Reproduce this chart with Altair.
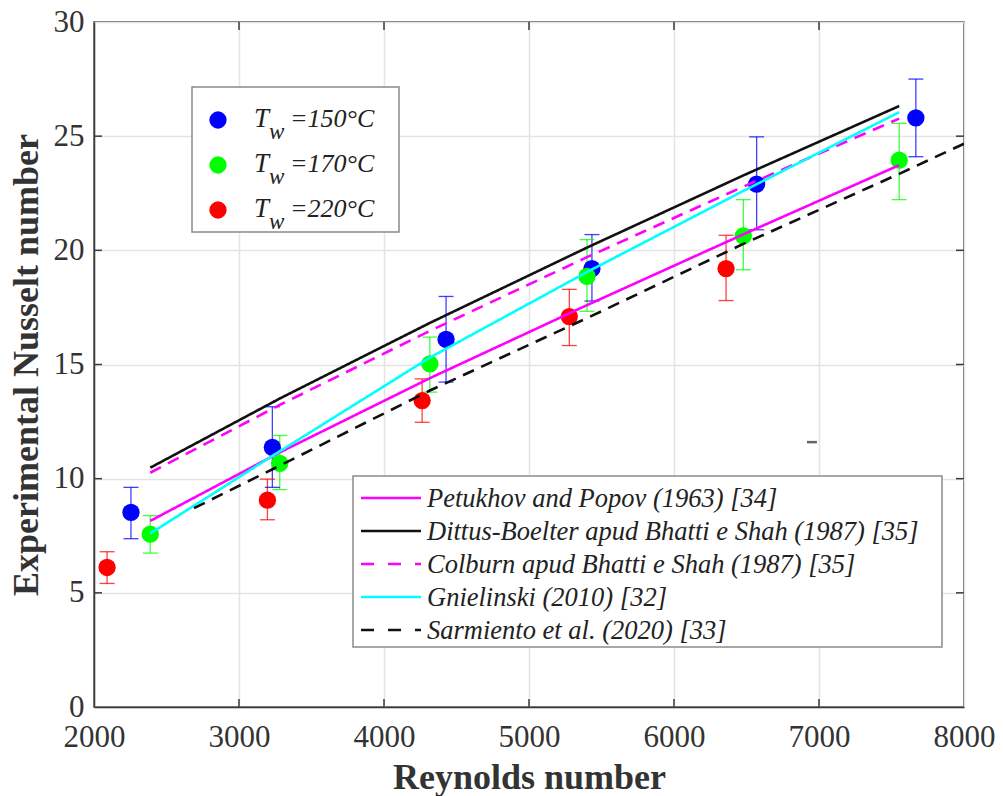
import altair as alt
import pandas as pd

# ---- experimental data: Reynolds number, Nusselt number and error-bar limits ----
re_150 = [2255, 3230, 4428, 5434, 6570, 7668]
nu_150 = [8.52, 11.37, 16.10, 19.20, 22.90, 25.80]
lo_150 = [7.37, 9.62, 14.23, 17.78, 20.90, 24.10]
hi_150 = [9.62, 13.15, 17.98, 20.69, 24.97, 27.50]

re_170 = [2388, 3281, 4316, 5400, 6478, 7553]
nu_170 = [7.57, 10.67, 15.03, 18.86, 20.63, 23.95]
lo_170 = [6.74, 9.52, 13.79, 17.33, 19.15, 22.22]
hi_170 = [8.38, 11.89, 16.20, 20.47, 22.22, 25.56]

re_220 = [2090, 3196, 4263, 5278, 6359]
nu_220 = [6.11, 9.06, 13.42, 17.10, 19.20]
lo_220 = [5.41, 8.20, 12.47, 15.83, 17.80]
hi_220 = [6.80, 9.98, 14.37, 18.29, 20.66]

# ---- correlations evaluated at the 170 °C Reynolds numbers ----
re_corr = [2388, 3281, 4316, 5400, 6478, 7553]
nu_petukhov = [8.15, 11.15, 14.40, 17.60, 20.70, 23.73]
nu_dittus = [10.48, 13.51, 16.82, 20.12, 23.28, 26.32]
nu_colburn = [10.26, 13.23, 16.47, 19.70, 22.79, 25.77]
nu_gnielinski = [7.60, 11.20, 15.30, 19.05, 22.60, 26.05]

re_sarmiento = [2690, 3281, 4316, 5400, 6478, 7553, 8000]
nu_sarmiento = [8.71, 10.57, 13.86, 17.03, 20.28, 23.35, 24.67]

series_names = ["T_w=150°C", "T_w=170°C", "T_w=220°C"]
series_colors = ["#0000ff", "#00ff00", "#ff0000"]
series_labels = ["=150°C", "=170°C", "=220°C"]

model_names = [
    "Petukhov and Popov (1963) [34]",
    "Dittus-Boelter apud Bhatti e Shah (1987) [35]",
    "Colburn apud Bhatti e Shah (1987) [35]",
    "Gnielinski (2010) [32]",
    "Sarmiento et al. (2020) [33]",
]
model_colors = ["#ff00ff", "#111111", "#ff00ff", "#00ffff", "#111111"]
model_dash = [[1, 0], [1, 0], [12, 8], [1, 0], [12, 8]]
model_re = [re_corr, re_corr, re_corr, re_corr, re_sarmiento]
model_nu = [nu_petukhov, nu_dittus, nu_colburn, nu_gnielinski, nu_sarmiento]

x_ticks = [2000, 3000, 4000, 5000, 6000, 7000, 8000]
y_ticks = [0, 5, 10, 15, 20, 25, 30]

W, H = 870, 685
SERIF = "Liberation Serif"
AXIS_GRAY = "#3a3a3a"
TEXT = "#222222"

# ---- experimental table ----
rows = []
for name, re, nu, lo, hi in zip(series_names,
                                [re_150, re_170, re_220],
                                [nu_150, nu_170, nu_220],
                                [lo_150, lo_170, lo_220],
                                [hi_150, hi_170, hi_220]):
    for r, n, l, h in zip(re, nu, lo, hi):
        rows.append({"series": name, "Re": r, "Nu": n, "lo": l, "hi": h})
exp_df = pd.DataFrame(rows)

x_scale = alt.Scale(domain=[2000, 8000], nice=False, zero=False)
y_scale = alt.Scale(domain=[0, 30], nice=False, zero=True)
color_exp = alt.Color("series:N", scale=alt.Scale(domain=series_names, range=series_colors), legend=None)

x_enc = alt.X(
    "Re:Q", scale=x_scale,
    axis=alt.Axis(values=x_ticks, title="Reynolds number", format="d", labelFlush=False,
                  titleY=81, titleBaseline="alphabetic"),
)
y_enc = alt.Y(
    "Nu:Q", scale=y_scale,
    axis=alt.Axis(values=y_ticks, title="Experimental Nusselt number", labelFlush=False),
)

base = alt.Chart(exp_df)

err_bars = base.mark_rule(strokeWidth=1.3, opacity=0.75).encode(
    x=x_enc, y=alt.Y("lo:Q", scale=y_scale), y2="hi:Q", color=color_exp
)
err_top = base.mark_tick(orient="horizontal", size=15, thickness=1.3, opacity=0.75).encode(
    x="Re:Q", y=alt.Y("hi:Q", scale=y_scale), color=color_exp
)
err_bot = base.mark_tick(orient="horizontal", size=15, thickness=1.3, opacity=0.75).encode(
    x="Re:Q", y=alt.Y("lo:Q", scale=y_scale), color=color_exp
)
points = base.mark_circle(size=300, opacity=1).encode(x="Re:Q", y=y_enc, color=color_exp)

# one layer per correlation, each with its own fixed colour and dash
line_layers = []
for name, col, dash, res, nus in zip(model_names, model_colors, model_dash, model_re, model_nu):
    df = pd.DataFrame({"Re": res, "Nu": nus, "order": list(range(len(res)))})
    line_layers.append(
        alt.Chart(df).mark_line(strokeWidth=2.6, clip=True, color=col, strokeDash=dash).encode(
            x="Re:Q", y="Nu:Q", order="order:Q"
        )
    )

# small stray dash sitting inside the axes
stray = alt.Chart(pd.DataFrame({"a": [6917], "b": [6986], "y": [11.6]})).mark_rule(
    color="#666666", strokeWidth=2.5
).encode(x="a:Q", x2="b:Q", y="y:Q")

# inward tick marks on all four sides
xt = alt.Chart(pd.DataFrame({"Re": x_ticks[1:-1]}))
yt = alt.Chart(pd.DataFrame({"Nu": y_ticks[1:-1]}))
tick_style = dict(color=AXIS_GRAY, strokeWidth=1.5)
ticks = [
    xt.mark_rule(**tick_style).encode(x="Re:Q", y=alt.value(H), y2=alt.value(H - 8)),
    xt.mark_rule(**tick_style).encode(x="Re:Q", y=alt.value(0), y2=alt.value(8)),
    yt.mark_rule(**tick_style).encode(y="Nu:Q", x=alt.value(0), x2=alt.value(8)),
    yt.mark_rule(**tick_style).encode(y="Nu:Q", x=alt.value(W - 8), x2=alt.value(W)),
]

one = pd.DataFrame({"k": [0]})
legend_layers = []

# ---- legend for the experimental series ----
legend_layers.append(
    alt.Chart(one).mark_rect(fill="white", stroke="#8a8a8a", strokeWidth=1.5).encode(
        x=alt.value(98), x2=alt.value(305), y=alt.value(65), y2=alt.value(210)
    )
)
for i, (col, lab) in enumerate(zip(series_colors, series_labels)):
    cy = 98 + 45 * i
    legend_layers.append(
        alt.Chart(one).mark_circle(size=300, opacity=1, color=col).encode(
            x=alt.value(124), y=alt.value(cy)
        )
    )
    legend_layers.append(
        alt.Chart(one).mark_text(text="T", font=SERIF, fontStyle="italic", fontSize=27,
                                 align="left", baseline="alphabetic", color=TEXT).encode(
            x=alt.value(160), y=alt.value(cy + 7)
        )
    )
    legend_layers.append(
        alt.Chart(one).mark_text(text="w", font=SERIF, fontStyle="italic", fontSize=23,
                                 align="left", baseline="alphabetic", color=TEXT).encode(
            x=alt.value(175), y=alt.value(cy + 19)
        )
    )
    legend_layers.append(
        alt.Chart(one).mark_text(text=lab, font=SERIF, fontStyle="italic", fontSize=26,
                                 align="left", baseline="alphabetic", color=TEXT).encode(
            x=alt.value(196), y=alt.value(cy + 7)
        )
    )

# ---- legend for the correlations ----
legend_layers.append(
    alt.Chart(one).mark_rect(fill="white", stroke="#8a8a8a", strokeWidth=1.5).encode(
        x=alt.value(259), x2=alt.value(848), y=alt.value(454), y2=alt.value(625)
    )
)
legend_dash = [[1, 0], [1, 0], [13, 14], [1, 0], [13, 14]]
for i, (name, col, dash) in enumerate(zip(model_names, model_colors, legend_dash)):
    cy = 476 + 33 * i
    legend_layers.append(
        alt.Chart(one).mark_rule(color=col, strokeWidth=2.6, strokeDash=dash).encode(
            x=alt.value(267), x2=alt.value(327), y=alt.value(cy)
        )
    )
    legend_layers.append(
        alt.Chart(one).mark_text(text=name, font=SERIF, fontStyle="italic", fontSize=26.5,
                                 align="left", baseline="middle", color=TEXT).encode(
            x=alt.value(333), y=alt.value(cy + 1)
        )
    )

chart = alt.layer(
    err_bars, err_top, err_bot, points, *line_layers, stray, *ticks, *legend_layers
).properties(
    width=W,
    height=H,
    padding={"left": 94, "top": 22, "right": 39, "bottom": 89},
    autosize=alt.AutoSizeParams(type="none"),
    background="white",
).configure_view(
    stroke=AXIS_GRAY, strokeWidth=1.5
).configure_axis(
    grid=True,
    gridColor="#e4e4e4",
    gridWidth=1.5,
    domainColor=AXIS_GRAY,
    domainWidth=1.5,
    tickSize=0,
    labelFont=SERIF,
    labelFontSize=31,
    labelColor="#333333",
    titleFont=SERIF,
    titleFontSize=36,
    titleFontWeight="bold",
    titleColor="#333333",
).configure_axisX(
    labelPadding=15,
).configure_axisY(
    labelPadding=10,
    titlePadding=8,
)

chart.save("out.html", embed_options={"renderer": "svg", "actions": False})
